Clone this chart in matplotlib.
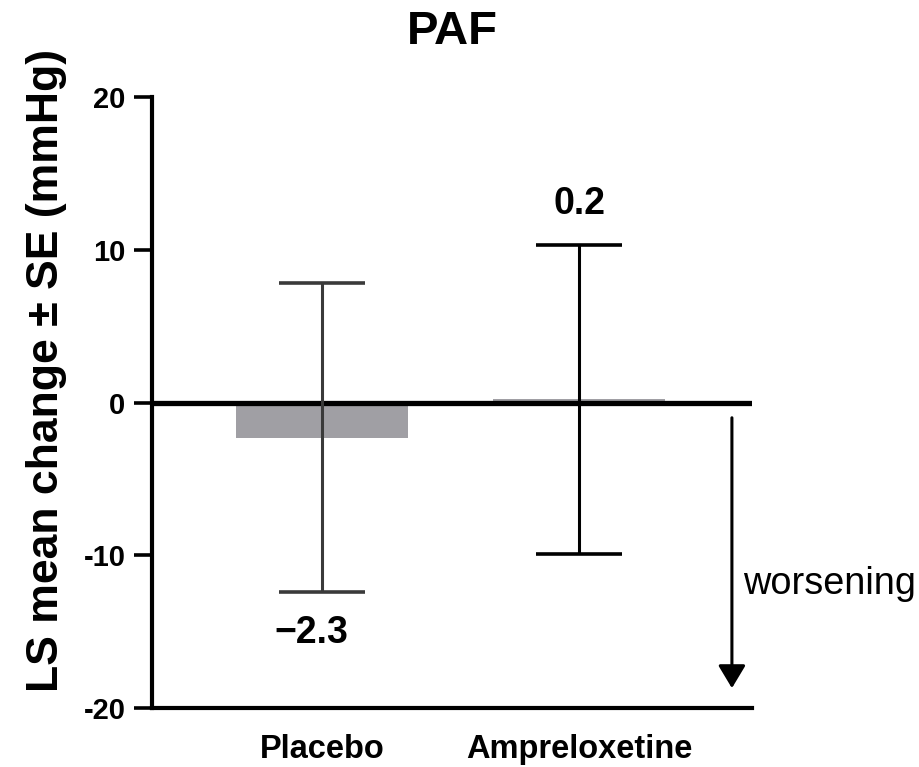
import matplotlib
matplotlib.use("Agg")
import matplotlib.pyplot as plt

plt.rcParams['font.family'] = ['Liberation Sans', 'DejaVu Sans']

categories = ["Placebo", "Ampreloxetine"]
means = [-2.3, 0.2]
ses = [10.1, 10.1]
value_labels = ["\u22122.3", "0.2"]
yticks = [-20, -10, 0, 10, 20]

fig = plt.figure(figsize=(9.2, 7.67), dpi=100)
ax = fig.add_axes([152/920, 1-708/767, 600/920, (708-97)/767])

x = list(range(len(categories)))
ax.bar(x, means, width=0.668, color="#A09FA4", zorder=1)
err_colors = ["#3a3a3a", "#000000"]
for xi, m, s, c in zip(x, means, ses, err_colors):
    ax.errorbar(xi, m, yerr=s, fmt='none', ecolor=c, elinewidth=2.2,
                capsize=31, capthick=2.6, zorder=3)
ax.axhline(0, color="black", lw=3.8, zorder=2)

# value labels
ax.text(x[0] - 0.04, means[0] - ses[0] - 2.7, value_labels[0], ha='center', va='center',
        fontsize=27, fontweight='bold')
ax.text(x[1], means[1] + ses[1] + 2.7, value_labels[1], ha='center', va='center',
        fontsize=27, fontweight='bold')

ax.set_xlim(-0.66, 1.67)
ax.set_ylim(-20, 20)
ax.set_yticks(yticks)
ax.set_yticklabels([str(v) for v in yticks], fontsize=21, fontweight='bold')
ax.set_xticks(x)
ax.set_xticklabels(categories, fontsize=23.5, fontweight='bold')
ax.tick_params(axis='x', length=0, pad=19)
ax.tick_params(axis='y', length=13, width=2.6, pad=6)

for sp in ['top', 'right']:
    ax.spines[sp].set_visible(False)
for sp in ['left', 'bottom']:
    ax.spines[sp].set_linewidth(3)

ax.set_ylabel("LS mean change \u00b1 SE (mmHg)", fontsize=32, fontweight='bold')
ax.yaxis.set_label_coords(-0.142, 0.553)
ax.set_title("PAF", fontsize=34, fontweight='bold', pad=38)

# worsening arrow
ax.annotate("", xy=(1.592, -18.7), xytext=(1.592, -1.0),
            arrowprops=dict(arrowstyle="-|>,head_length=0.7,head_width=0.42", color="black",
                            lw=2.2, mutation_scale=20, shrinkA=0, shrinkB=0),
            annotation_clip=False)
ax.text(1.635, -11.85, "worsening", ha='left', va='center', fontsize=27.3, clip_on=False)

fig.savefig("out.png", dpi=100)
